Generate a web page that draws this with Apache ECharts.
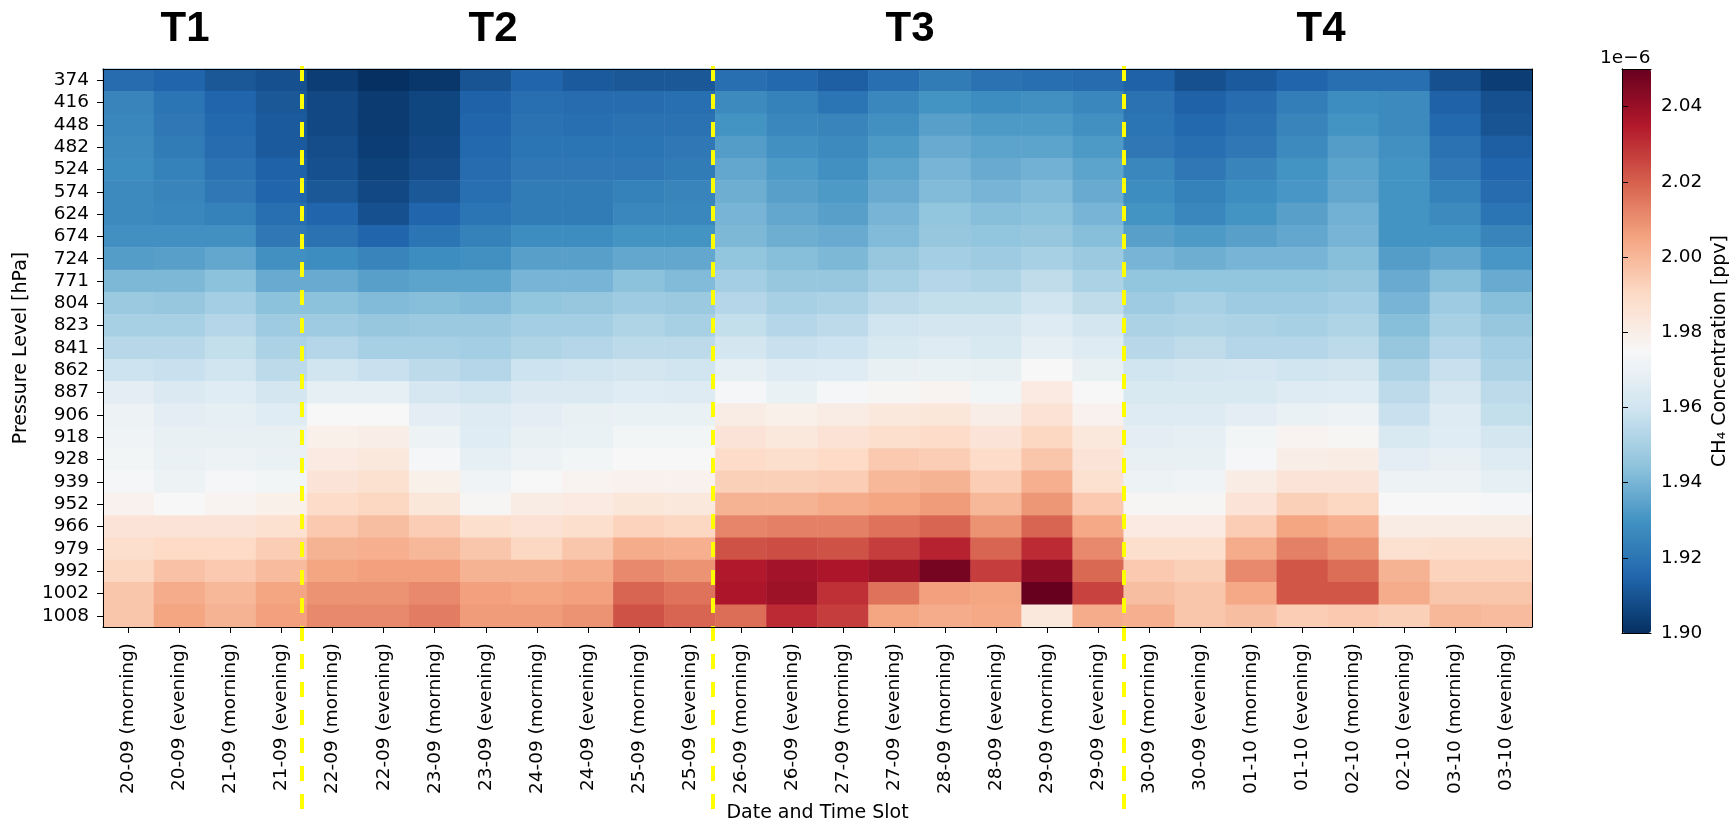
<!DOCTYPE html>
<html>
<head>
<meta charset="utf-8">
<script src="https://cdn.jsdelivr.net/npm/echarts@6/dist/echarts.min.js"></script>
<style>
html,body{margin:0;padding:0;background:#fff;}
#chart{width:1734px;height:828px;}
</style>
</head>
<body>
<div id="chart"></div>
<script>
// ---- data (CH4 concentration, units of 1e-6 ppv) ----
const timeSlots = [
  '20-09 (morning)','20-09 (evening)','21-09 (morning)','21-09 (evening)',
  '22-09 (morning)','22-09 (evening)','23-09 (morning)','23-09 (evening)',
  '24-09 (morning)','24-09 (evening)','25-09 (morning)','25-09 (evening)',
  '26-09 (morning)','26-09 (evening)','27-09 (morning)','27-09 (evening)',
  '28-09 (morning)','28-09 (evening)','29-09 (morning)','29-09 (evening)',
  '30-09 (morning)','30-09 (evening)','01-10 (morning)','01-10 (evening)',
  '02-10 (morning)','02-10 (evening)','03-10 (morning)','03-10 (evening)'
];
const pressureLevels = ['374','416','448','482','524','574','624','674','724','771','804','823','841','862','887','906','918','928','939','952','966','979','992','1002','1008'];

const ch4 = [
 [1.917,1.915,1.911,1.909,1.904,1.900,1.902,1.910,1.915,1.912,1.911,1.911,1.918,1.916,1.913,1.918,1.922,1.919,1.918,1.917,1.914,1.909,1.912,1.915,1.918,1.918,1.909,1.904],
 [1.925,1.920,1.915,1.911,1.907,1.903,1.906,1.914,1.918,1.917,1.917,1.918,1.927,1.924,1.920,1.926,1.930,1.928,1.929,1.926,1.919,1.914,1.917,1.923,1.928,1.927,1.914,1.909],
 [1.926,1.921,1.916,1.912,1.907,1.903,1.906,1.915,1.919,1.918,1.919,1.919,1.930,1.926,1.925,1.929,1.934,1.932,1.932,1.929,1.920,1.916,1.919,1.925,1.930,1.927,1.916,1.910],
 [1.927,1.922,1.917,1.912,1.908,1.904,1.907,1.916,1.920,1.920,1.920,1.921,1.933,1.929,1.927,1.932,1.937,1.935,1.935,1.932,1.921,1.918,1.921,1.927,1.933,1.929,1.919,1.913],
 [1.928,1.924,1.919,1.914,1.909,1.905,1.908,1.917,1.921,1.921,1.921,1.922,1.936,1.932,1.929,1.935,1.940,1.937,1.939,1.935,1.926,1.921,1.925,1.930,1.935,1.930,1.921,1.915],
 [1.927,1.925,1.921,1.915,1.911,1.907,1.911,1.918,1.922,1.922,1.924,1.925,1.938,1.934,1.932,1.937,1.942,1.940,1.942,1.937,1.928,1.924,1.928,1.931,1.936,1.930,1.924,1.917],
 [1.927,1.926,1.924,1.918,1.915,1.909,1.915,1.920,1.922,1.922,1.926,1.926,1.940,1.936,1.934,1.940,1.945,1.943,1.944,1.940,1.930,1.926,1.930,1.934,1.939,1.930,1.927,1.920],
 [1.929,1.929,1.929,1.921,1.919,1.915,1.920,1.924,1.928,1.928,1.930,1.930,1.941,1.938,1.937,1.942,1.946,1.945,1.946,1.943,1.934,1.932,1.934,1.936,1.940,1.930,1.930,1.925],
 [1.933,1.934,1.936,1.929,1.928,1.925,1.928,1.929,1.934,1.934,1.936,1.936,1.945,1.943,1.941,1.946,1.949,1.948,1.950,1.947,1.940,1.938,1.940,1.940,1.943,1.933,1.936,1.931],
 [1.941,1.941,1.944,1.937,1.937,1.934,1.935,1.935,1.940,1.940,1.944,1.942,1.949,1.946,1.946,1.950,1.953,1.952,1.956,1.951,1.945,1.945,1.945,1.945,1.946,1.937,1.943,1.937],
 [1.947,1.946,1.949,1.944,1.944,1.942,1.943,1.942,1.945,1.946,1.948,1.947,1.953,1.950,1.951,1.955,1.957,1.957,1.960,1.956,1.948,1.950,1.948,1.948,1.949,1.940,1.948,1.943],
 [1.950,1.950,1.953,1.948,1.948,1.946,1.947,1.947,1.949,1.949,1.952,1.950,1.957,1.953,1.955,1.960,1.961,1.961,1.965,1.961,1.951,1.952,1.951,1.950,1.952,1.943,1.950,1.946],
 [1.954,1.954,1.957,1.951,1.953,1.950,1.950,1.949,1.952,1.953,1.955,1.955,1.961,1.958,1.959,1.963,1.965,1.963,1.968,1.965,1.954,1.956,1.953,1.953,1.955,1.946,1.953,1.949],
 [1.959,1.958,1.960,1.955,1.960,1.958,1.955,1.953,1.959,1.960,1.961,1.960,1.968,1.965,1.966,1.969,1.970,1.969,1.975,1.969,1.960,1.961,1.962,1.960,1.961,1.951,1.958,1.951],
 [1.967,1.964,1.966,1.961,1.968,1.968,1.962,1.960,1.964,1.964,1.966,1.965,1.974,1.970,1.974,1.976,1.977,1.973,1.982,1.975,1.963,1.963,1.963,1.965,1.966,1.955,1.962,1.955],
 [1.971,1.967,1.968,1.966,1.975,1.975,1.967,1.965,1.967,1.969,1.970,1.970,1.981,1.979,1.981,1.983,1.984,1.980,1.986,1.978,1.965,1.965,1.967,1.970,1.971,1.958,1.965,1.957],
 [1.972,1.969,1.969,1.969,1.979,1.980,1.971,1.966,1.969,1.970,1.973,1.973,1.985,1.983,1.986,1.988,1.989,1.985,1.991,1.983,1.967,1.968,1.973,1.977,1.976,1.963,1.966,1.961],
 [1.973,1.970,1.971,1.970,1.982,1.983,1.974,1.968,1.971,1.973,1.975,1.975,1.989,1.988,1.990,1.995,1.994,1.989,1.996,1.985,1.969,1.969,1.974,1.980,1.981,1.967,1.969,1.965],
 [1.974,1.971,1.974,1.973,1.985,1.987,1.979,1.972,1.975,1.977,1.978,1.978,1.993,1.993,1.994,2.000,2.001,1.994,2.002,1.987,1.971,1.972,1.981,1.985,1.985,1.971,1.971,1.968],
 [1.978,1.975,1.977,1.979,1.989,1.991,1.984,1.976,1.981,1.982,1.984,1.983,2.001,2.001,2.003,2.005,2.007,2.000,2.008,1.995,1.976,1.976,1.985,1.993,1.991,1.975,1.975,1.974],
 [1.985,1.985,1.985,1.987,1.995,1.998,1.994,1.988,1.986,1.988,1.992,1.991,2.012,2.013,2.013,2.016,2.019,2.009,2.019,2.004,1.982,1.982,1.994,2.005,2.002,1.981,1.981,1.981],
 [1.988,1.990,1.990,1.994,2.001,2.002,2.000,1.996,1.991,1.996,2.003,2.002,2.023,2.024,2.023,2.027,2.033,2.019,2.031,2.011,1.988,1.988,2.003,2.013,2.009,1.987,1.988,1.988],
 [1.991,1.997,1.995,1.999,2.005,2.006,2.006,2.001,2.001,2.003,2.011,2.009,2.035,2.038,2.036,2.039,2.047,2.027,2.042,2.018,1.995,1.993,2.011,2.022,2.017,2.001,1.992,1.992],
 [1.996,2.003,2.000,2.005,2.009,2.009,2.011,2.006,2.005,2.006,2.019,2.016,2.036,2.039,2.030,2.016,2.006,2.005,2.050,2.026,1.998,1.996,2.004,2.022,2.022,2.003,1.996,1.996],
 [1.996,2.005,2.001,2.006,2.011,2.011,2.014,2.007,2.007,2.009,2.023,2.019,2.017,2.031,2.027,2.005,2.003,2.004,1.983,2.003,2.002,1.996,1.998,1.994,1.995,1.993,2.000,1.999]
];

const periodNames = ['T1','T2','T3','T4'];
const periodBoundaries = [3.9, 11.95, 20.0];        // in column units
const colorbarTicks = [1.90,1.92,1.94,1.96,1.98,2.00,2.02,2.04];
const colorMin = 1.90, colorMax = 2.05;
const rdBuR = ['#053061','#2166ac','#4393c3','#92c5de','#d1e5f0','#f7f7f7','#fddbc7','#f4a582','#d6604d','#b2182b','#67001f'];

// ---- build ----
const heatData = [];
ch4.forEach((row, r) => row.forEach((v, c) => heatData.push([c, r, v])));

const FONT = 'DejaVu Sans';
const black = '#000';
const plainLine = {show: true, lineStyle: {color: black, width: 1}};

const chart = echarts.init(document.getElementById('chart'), null, {renderer: 'canvas'});
const option = {
  animation: false,
  backgroundColor: '#ffffff',
  textStyle: {fontFamily: FONT, color: black},
  grid: [
    {left: 103, top: 69, width: 1429, height: 564},
    {left: 1622, top: 69, width: 29, height: 564},
    {left: 103, top: 66, width: 1429, height: 748}
  ],
  xAxis: [
    {gridIndex: 0, type: 'category', data: timeSlots, position: 'bottom', z: 10,
     axisLine: plainLine,
     axisTick: {show: true, alignWithLabel: true, length: 6, lineStyle: {color: black}},
     axisLabel: {rotate: 90, interval: 0, fontSize: 18.5, color: black, margin: 16, fontFamily: FONT},
     splitLine: {show: false},
     name: 'Date and Time Slot', nameLocation: 'middle', nameGap: 177,
     nameTextStyle: {fontSize: 19, color: black, fontFamily: FONT}},
    {gridIndex: 0, type: 'category', data: timeSlots, position: 'top', z: 10,
     axisLine: plainLine, axisTick: {show: false}, axisLabel: {show: false}, splitLine: {show: false}},
    {gridIndex: 1, type: 'value', min: 0, max: 1, position: 'bottom', z: 10,
     axisLine: plainLine, axisTick: {show: false}, axisLabel: {show: false}, splitLine: {show: false}},
    {gridIndex: 1, type: 'value', min: 0, max: 1, position: 'top', z: 10,
     axisLine: plainLine, axisTick: {show: false}, axisLabel: {show: false}, splitLine: {show: false}},
    {gridIndex: 2, type: 'value', min: 0, max: timeSlots.length, show: false}
  ],
  yAxis: [
    {gridIndex: 0, type: 'category', data: pressureLevels, inverse: true, position: 'left', z: 10,
     axisLine: plainLine,
     axisTick: {show: true, alignWithLabel: true, length: 6, lineStyle: {color: black}},
     axisLabel: {fontSize: 18.5, color: black, margin: 14, interval: 0, fontFamily: FONT},
     splitLine: {show: false},
     name: 'Pressure Level [hPa]', nameLocation: 'middle', nameGap: 70, nameRotate: 90,
     nameTextStyle: {fontSize: 19, color: black, fontFamily: FONT}},
    {gridIndex: 0, type: 'category', data: pressureLevels, inverse: true, position: 'right', z: 10,
     axisLine: plainLine, axisTick: {show: false}, axisLabel: {show: false}, splitLine: {show: false}},
    {gridIndex: 1, type: 'value', min: colorMin, max: colorMax, position: 'right', z: 10,
     axisLine: plainLine,
     axisTick: {show: true, length: 6, lineStyle: {color: black}, customValues: colorbarTicks},
     axisLabel: {show: true, fontSize: 18.5, color: black, margin: 10, fontFamily: FONT,
                 customValues: colorbarTicks, formatter: v => Number(v).toFixed(2)},
     splitLine: {show: false},
     name: 'CH\u2084 Concentration [ppv]', nameLocation: 'middle', nameRotate: 90, nameGap: 60,
     nameTextStyle: {fontSize: 19, color: black, fontFamily: FONT}},
    {gridIndex: 1, type: 'value', min: colorMin, max: colorMax, position: 'left', z: 10,
     axisLine: plainLine, axisTick: {show: false}, axisLabel: {show: false}, splitLine: {show: false}},
    {gridIndex: 2, type: 'value', min: 0, max: 1, inverse: true, show: false}
  ],
  visualMap: {
    type: 'continuous', seriesIndex: 0, min: colorMin, max: colorMax,
    inRange: {color: rdBuR},
    calculable: false, hoverLink: false, realtime: false,
    orient: 'vertical', left: 1622, top: 69, itemWidth: 29, itemHeight: 564,
    padding: 0, text: null, showLabel: false
  },
  series: [
    {type: 'heatmap', xAxisIndex: 0, yAxisIndex: 0, data: heatData,
     progressive: 0, itemStyle: {borderWidth: 0}, emphasis: {disabled: true}, z: 2},
    {type: 'line', xAxisIndex: 4, yAxisIndex: 4, data: [], symbol: 'none', silent: true, z: 6,
     markLine: {silent: true, symbol: ['none', 'none'], animation: false,
                label: {show: false},
                lineStyle: {color: '#ffff00', width: 4, type: [15, 13], opacity: 1},
                emphasis: {disabled: true},
                data: periodBoundaries.map(v => ({xAxis: v}))}}
  ],
  graphic: [
    ...periodNames.map((t, i) => ({
      type: 'text', x: [185, 493, 910, 1321][i], y: 29, z: 20,
      style: {text: t, fill: black, font: 'bold 42px "Liberation Sans", Arial, sans-serif',
              align: 'center', verticalAlign: 'middle'}
    })),
    {type: 'text', x: 1600, y: 58, z: 20,
     style: {text: '1e\u22126', fill: black, font: '18.5px "DejaVu Sans"', align: 'left', verticalAlign: 'middle'}}
  ]
};
chart.setOption(option);
</script>
</body>
</html>
